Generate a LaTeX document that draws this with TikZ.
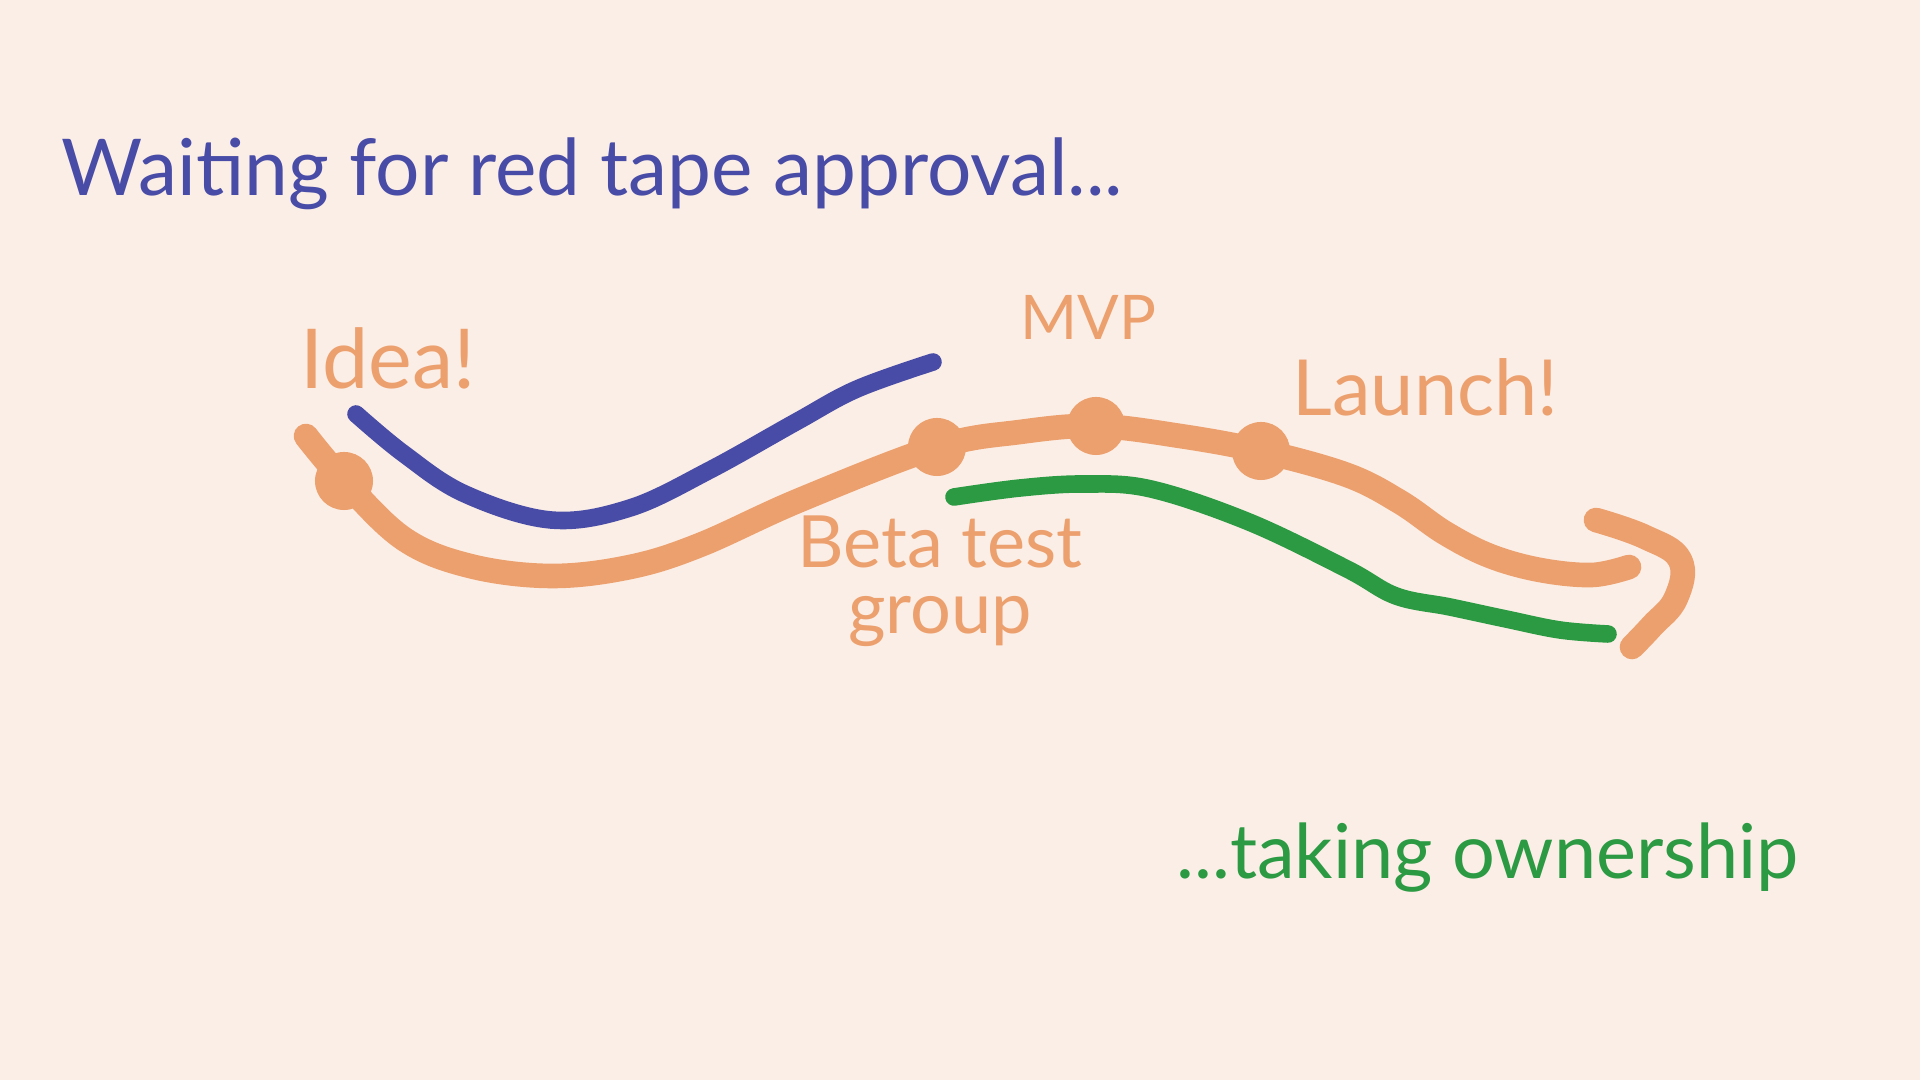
\documentclass[tikz,border=0pt]{standalone}
\usepackage{fontspec}
\setmainfont{Lato}
\definecolor{bgcream}{HTML}{FBEEE6}
\definecolor{roadorange}{HTML}{ECA06E}
\definecolor{tapeblue}{HTML}{484CA6}
\definecolor{ownergreen}{HTML}{2B9A43}
\tikzset{
  road/.style={line width=7pt, roadorange, line cap=round, line join=round},
  tapeline/.style={line width=5pt, tapeblue, line cap=round},
  ownline/.style={line width=5pt, ownergreen, line cap=round},
  milestone/.style={circle, fill=roadorange, minimum size=0.58cm, inner sep=0pt},
  rdlbl/.style={font=\fontsize{22}{15}\selectfont, text=roadorange, anchor=base west, inner sep=0pt},
  bigtxt/.style={font=\fontsize{22.3}{24}\selectfont, anchor=base west, inner sep=0pt},
}
\newcommand{\mstone}[3]{\node[milestone] (#1) at (#2,#3) {};}

\begin{document}
\begin{tikzpicture}[x=0.01cm, y=-0.01cm]
  \fill[bgcream] (0,0) rectangle (1920,1080);
  \useasboundingbox (0,0) rectangle (1920,1080);

  % milestones on the road
  \mstone{dIdea}{344}{481}
  \mstone{dBeta}{937}{447}
  \mstone{dMvp}{1096}{426}
  \mstone{dLaunch}{1261}{451}

  \draw[road] plot[smooth, tension=0.6] coordinates {(306,436) (dIdea.center) (404,539) (470,566) (551,576)
    (630,567) (700,545) (800,500) (dBeta.center) (1020,432) (dMvp.center) (1180,436) (dLaunch.center)
    (1347,475) (1400,502) (1445,533) (1490,556) (1540,570) (1592,575) (1629,567)};
  \draw[road] plot[smooth, tension=0.7] coordinates {(1596,520) (1645,537) (1680,560)
    (1676,598) (1652,626) (1632,647)};

  \draw[tapeline] plot[smooth, tension=0.6] coordinates {(356,414) (404,454) (465,494) (551,520)
    (630,508) (710,470) (796,422) (857,389) (933,362)};
  \draw[ownline] plot[smooth, tension=0.6] coordinates {(954,497) (1020,488) (1084,484) (1151,489)
    (1249,522) (1347,569) (1396,596) (1450,607) (1506,619) (1560,630) (1608,634)};

  \node[rdlbl, font=\fontsize{23.5}{15}\selectfont] (idea) at (300,389) {Idea!};
  \node[rdlbl, font=\fontsize{17.5}{15}\selectfont] (mvp) at (1020,340) {MVP};
  \node[rdlbl] (launch) at (1292,416) {Launch!};
  \node[rdlbl, font=\fontsize{20.5}{19}\selectfont, anchor=base, align=center] (beta) at (940,634) {Beta test\\group};

  \node[bigtxt, text=tapeblue] (wait) at (61,196) {Waiting for red tape approval...};
  \node[bigtxt, font=\fontsize{21.5}{24}\selectfont, text=ownergreen] (own) at (1176,879) {...taking ownership};
\end{tikzpicture}
\end{document}
